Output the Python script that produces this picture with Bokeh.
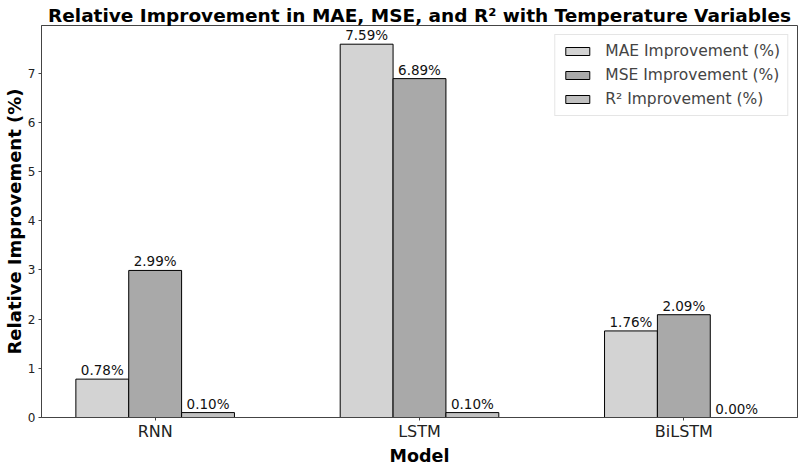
import numpy as np
from bokeh.plotting import figure
from bokeh.models import ColumnDataSource, Range1d, FixedTicker, Legend, LegendItem, Title
from bokeh.core.properties import value
from bokeh.embed import file_html
from bokeh.resources import INLINE

models = ["RNN", "LSTM", "BiLSTM"]
mae_impr = [0.78, 7.59, 1.76]
mse_impr = [2.99, 6.89, 2.09]
r2_impr = [0.10, 0.10, 0.00]

series_names = ["MAE Improvement (%)", "MSE Improvement (%)", "R\u00b2 Improvement (%)"]
series_vals = [mae_impr, mse_impr, r2_impr]
colors = ["#d3d3d3", "#a9a9a9", "#c0c0c0"]
offsets = [-0.2, 0.0, 0.2]
bar_w = 0.2

FONT = "DejaVu Sans"

p = figure(width=800, height=465, output_backend="svg", toolbar_location=None,
           x_range=Range1d(-0.43, 2.43), y_range=Range1d(0, 7.97),
           min_border_left=38, min_border_right=3, min_border_top=25, min_border_bottom=0)
p.title = None
t = Title(text="Relative Improvement in MAE, MSE, and R\u00b2 with Temperature Variables",
          align="center", text_font=FONT, text_font_size="18.5px", text_font_style="bold",
          text_color="black", standoff=0, offset=0, text_line_height=1.0)
p.add_layout(t, "above")

xlabel = Title(text="Model", align="center", text_font=FONT, text_font_size="17.5px",
               text_font_style="bold", text_color="black", standoff=0, offset=0,
               text_line_height=1.0)
p.add_layout(xlabel, "below")

idx = np.arange(len(models))
items = []
for name, vals, col, off in zip(series_names, series_vals, colors, offsets):
    src = ColumnDataSource(dict(x=idx + off, top=vals,
                                lbl=["%.2f%%" % v for v in vals]))
    r = p.vbar(x="x", top="top", width=bar_w, source=src, fill_color=col,
               line_color="black", line_width=1)
    p.text(x="x", y="top", text="lbl", source=src, text_align="center",
           text_baseline="bottom", y_offset=-1, text_font=value(FONT),
           text_font_size="13.5px", text_color="#111111")
    items.append(LegendItem(label=name, renderers=[r]))

legend = Legend(items=items, location="top_right", label_text_font=FONT,
                label_text_font_size="15.5px", glyph_width=30, glyph_height=10,
                spacing=6, padding=7, margin=9, label_standoff=13,
                border_line_color="#cccccc", border_line_width=1,
                background_fill_alpha=0.9)
p.add_layout(legend)

p.xaxis.ticker = FixedTicker(ticks=list(idx))
p.xaxis.major_label_overrides = {int(i): m for i, m in zip(idx, models)}
p.yaxis.axis_label = "Relative Improvement (%)"
p.yaxis.ticker = FixedTicker(ticks=list(range(0, 8)))

for ax in (p.xaxis[0], p.yaxis[0]):
    ax.axis_label_text_font = FONT
    ax.axis_label_text_font_style = "bold"
    ax.axis_label_text_font_size = "18px"
    ax.axis_label_text_color = "black"
    ax.axis_label_text_line_height = 1.0
    ax.major_label_text_font = FONT
    ax.major_label_text_color = "#222222"
    ax.major_label_text_line_height = 1.0
    ax.minor_tick_line_color = None
    ax.major_tick_in = 0
    ax.major_tick_out = 3
    ax.axis_line_color = "#444444"
    ax.major_tick_line_color = "#444444"
    ax.axis_label_standoff = 0

p.xaxis.major_label_text_font_size = "16px"
p.yaxis.major_label_text_font_size = "12px"
p.xaxis.major_label_standoff = 1
p.yaxis.major_label_standoff = 3

p.xgrid.grid_line_color = None
p.ygrid.grid_line_color = None
p.outline_line_color = "#444444"
p.outline_line_alpha = 1

open("out.html", "w").write(file_html(p, INLINE))
